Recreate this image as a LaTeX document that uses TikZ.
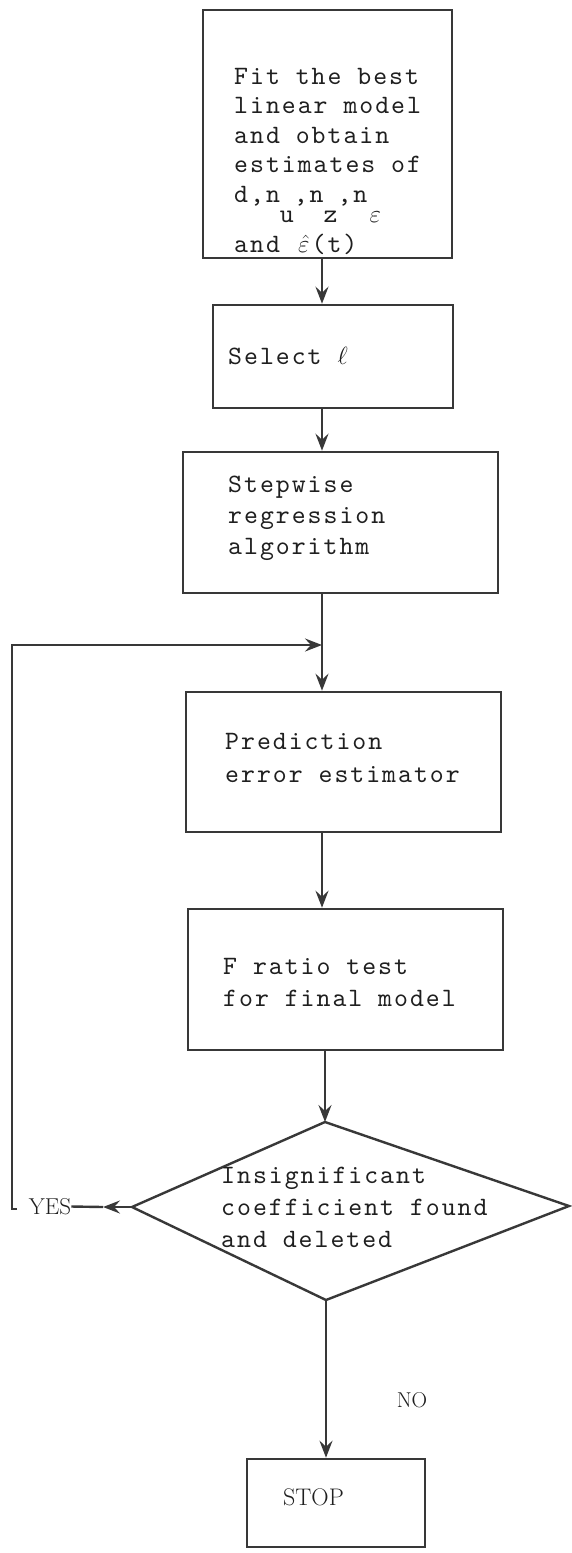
\documentclass[tikz,border=0pt]{standalone}
\usepackage{fontspec}
\setmonofont{lmmono10-regular.otf}[LetterSpace=7.5]
\usetikzlibrary{arrows.meta}
% one typewriter cell, for the math letters
\newcommand{\ttcell}[1]{\makebox[15.9pt]{#1}}
% typewriter subscript: a full letter, dropped half a line
\newcommand{\lowerby}[1]{\raisebox{-20pt}[0pt][0pt]{#1}}

\begin{document}
\begin{tikzpicture}[x=1pt,y=-1pt]
    \tikzstyle{edge}=[draw,line width=2.4pt,-,black!78]
    \tikzstyle{arrow}=[edge,-{Stealth[length=17pt,width=13pt,inset=6pt]}]
    \tikzstyle{frame}=[draw,line width=2.6pt,black!78,rectangle,inner sep=0pt]
    \tikzstyle{txt}=[anchor=west,align=left,inner sep=0pt,text=black!88,font=\ttfamily\fontsize{26.5}{32}\selectfont]
    \tikzstyle{caps}=[inner sep=0pt,text=black!88,font=\rmfamily\fontsize{23}{23}\selectfont]
    \useasboundingbox (0,0) rectangle (572,1553);
    \fill[white] (0,0) rectangle (572,1553);

    % process boxes
    \node[frame,minimum width=249pt,minimum height=248pt] (fit) at (327.5,134) {};
    \node[frame,minimum width=240pt,minimum height=103pt] (sel) at (333,356.5) {};
    \node[frame,minimum width=315pt,minimum height=141pt] (swr) at (340.5,522.5) {};
    \node[frame,minimum width=315pt,minimum height=140pt] (pee) at (343.5,762) {};
    \node[frame,minimum width=315pt,minimum height=141pt] (frt) at (345.5,979.5) {};
    \node[frame,minimum width=178pt,minimum height=88pt] (stop) at (336,1503) {};

    % decision
    \coordinate (dt) at (325,1122);
    \coordinate (dr) at (569,1206);
    \coordinate (db) at (326,1300);
    \coordinate (dl) at (132,1207);
    \draw[edge] (dt) -- (dr) -- (db) -- (dl) -- cycle;

    % texts
    \node[txt,font=\ttfamily\fontsize{26.5}{29.5}\selectfont] (fitl) at (234,161)
        {Fit the best\\linear model\\and obtain\\estimates of\\d,n\lowerby{u},n\lowerby{z},n\lowerby{\ttcell{$\varepsilon$}}\\[20.5pt]and \ttcell{$\hat{\varepsilon}$}(t)};
    \node[txt] (sell) at (228,356) {Select $\ell$};
    \node[txt,font=\ttfamily\fontsize{26.5}{31}\selectfont] (swrl) at (228,518.7) {Stepwise\\regression\\algorithm};
    \node[txt,font=\ttfamily\fontsize{26.5}{33}\selectfont] (peel) at (225,758.4) {Prediction\\error estimator};
    \node[txt] (frtl) at (223,982.9) {F ratio test\\for final model};
    \node[txt] (decl) at (221,1206.9) {Insignificant\\coefficient found\\and deleted};
    \node[caps,anchor=west,font=\rmfamily\fontsize{24}{24}\selectfont] (stopl) at (283,1497.5) {STOP};
    \node[caps,font=\rmfamily\fontsize{21.5}{21.5}\selectfont] (no) at (412,1400) {NO};
    \node[caps] (yes) at (50,1206.5) {YES};

    % connectors
    \coordinate (spine) at (322,0);
    \coordinate (jn) at (322,645);
    \coordinate (lt) at (12,645);
    \coordinate (lb) at (17,1209);
    \coordinate (ya) at (103,1207);
    \draw[arrow] (fit.south -| spine) -- (sel.north -| spine);
    \draw[arrow] (sel.south -| spine) -- (swr.north -| spine);
    \draw[arrow] (swr.south -| jn) -- (pee.north -| jn);
    \draw[arrow] (lb) -| (lt) -- (jn);
    \draw[arrow] (pee.south -| spine) -- (frt.north -| spine);
    \draw[arrow] (frt.south -| dt) -- (dt);
    \draw[arrow] (db) -- (stop.north -| db);
    \draw[arrow] (dl) -- (ya);
    \draw[edge] (ya) -- (yes.east);
\end{tikzpicture}
\end{document}
